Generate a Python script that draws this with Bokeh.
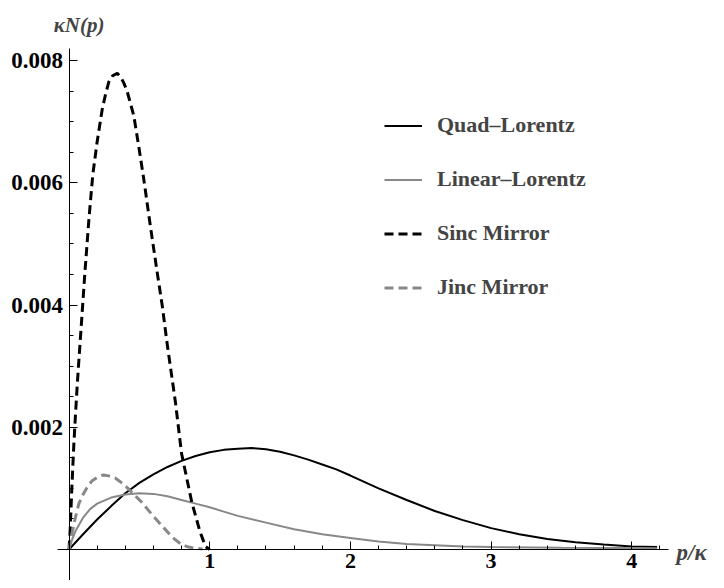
from bokeh.plotting import figure
from bokeh.models import Range1d, FixedTicker, Legend, LegendItem, Label
from bokeh.embed import file_html
from bokeh.resources import INLINE

# ---- data ----
quad_x = [0, 0.1, 0.2, 0.3, 0.4, 0.5, 0.6, 0.7, 0.8, 0.9, 1.0, 1.1, 1.2, 1.3, 1.4, 1.5, 1.6, 1.7, 1.8, 1.9, 2.0,
          2.2, 2.4, 2.6, 2.8, 3.0, 3.2, 3.4, 3.6, 3.8, 4.0, 4.18]
quad_y = [0, 0.00025, 0.00049, 0.00071, 0.00092, 0.00109, 0.00123, 0.00135, 0.00145, 0.00153, 0.00159, 0.00163,
          0.00165, 0.00166, 0.00164, 0.0016, 0.00154, 0.00147, 0.00139, 0.00131, 0.00121,
          0.001, 0.00081, 0.00063, 0.00048, 0.00035, 0.00025, 0.00017, 0.00012, 0.00008, 0.00005, 0.00004]

lin_x = [0, 0.025, 0.05, 0.1, 0.15, 0.2, 0.3, 0.4, 0.5, 0.6, 0.7, 0.8, 0.9, 1.0, 1.1, 1.2, 1.4, 1.6, 1.8, 2.0,
         2.2, 2.4, 2.6, 2.8, 3.0, 3.5, 4.18]
lin_y = [0, 0.00018, 0.00032, 0.00052, 0.00066, 0.00075, 0.00085, 0.0009, 0.00092, 0.00091, 0.00087, 0.00081,
         0.00075, 0.00069, 0.00062, 0.00055, 0.00044, 0.00033, 0.00025, 0.00019,
         0.00013, 0.00009, 0.00007, 0.00005, 0.00004, 0.00003, 0.00002]

sinc_x = [0, 0.008, 0.02, 0.034, 0.046, 0.058, 0.07, 0.094, 0.112, 0.141, 0.169, 0.2, 0.236, 0.26, 0.283, 0.31,
          0.343, 0.37, 0.39, 0.414, 0.461, 0.496, 0.532, 0.579, 0.627, 0.662, 0.698, 0.757, 0.8, 0.873, 0.93,
          0.97, 1.0]
sinc_y = [0, 0.0003, 0.001, 0.0017, 0.0022, 0.00267, 0.00309, 0.00389, 0.0045, 0.00539, 0.00613, 0.00667,
          0.0072, 0.00745, 0.00765, 0.00775, 0.00779, 0.00772, 0.00763, 0.00749, 0.00709, 0.00659, 0.00605,
          0.00528, 0.00453, 0.004, 0.00336, 0.0024, 0.00157, 0.00077, 0.0003, 0.00005, 0]

jinc_x = [0, 0.02, 0.044, 0.07, 0.1, 0.13, 0.162, 0.2, 0.245, 0.29, 0.328, 0.375, 0.423, 0.47, 0.518, 0.565,
          0.613, 0.66, 0.707, 0.75, 0.8, 0.85, 0.9, 0.95]
jinc_y = [0, 0.00025, 0.00051, 0.00075, 0.0009, 0.00102, 0.00112, 0.00118, 0.00122, 0.0012, 0.00117, 0.00109,
          0.00099, 0.00088, 0.00077, 0.00064, 0.00051, 0.00039, 0.00027, 0.00017, 0.00008, 0.00004, 0.00002,
          0.00001]

series_names = ["Quad–Lorentz", "Linear–Lorentz", "Sinc Mirror", "Jinc Mirror"]
x_major = [1, 2, 3, 4]
x_minor = [0.2, 0.4, 0.6, 0.8, 1.2, 1.4, 1.6, 1.8, 2.2, 2.4, 2.6, 2.8, 3.2, 3.4, 3.6, 3.8, 4.2]
y_major = [0.002, 0.004, 0.006, 0.008]
y_minor = [0.0005, 0.001, 0.0015, 0.0025, 0.003, 0.0035, 0.0045, 0.005, 0.0055, 0.0065, 0.007, 0.0075]
y_tick_labels = {0.002: "0.002", 0.004: "0.004", 0.006: "0.006", 0.008: "0.008"}
y_label = "κN(p)"
x_label = "p/κ"

FONT = "Liberation Serif"

# frame covers the whole canvas; axes sit at the data origin
W, H = 716, 580
X0_PX, XSCALE = 68.5, 140.7          # pixel of x=0, pixels per unit
Y0_PX = 549.0                        # pixel of y=0
YSCALE = (Y0_PX - 60.0) / 0.008      # 0.008 sits at pixel 60


def px_x(px):
    return (px - X0_PX) / XSCALE


def px_y(py):
    return (Y0_PX - py) / YSCALE


p = figure(width=W, height=H, output_backend="svg", toolbar_location=None,
           x_range=Range1d(px_x(0), px_x(W)), y_range=Range1d(px_y(H), px_y(0)),
           min_border_left=0, min_border_right=0, min_border_top=0, min_border_bottom=0)
p.outline_line_color = None
p.grid.visible = False

xa, ya = p.xaxis[0], p.yaxis[0]
for ax in (xa, ya):
    ax.fixed_location = 0
    ax.axis_line_color = "black"
    ax.axis_line_width = 1
    ax.major_tick_in = 8
    ax.major_tick_out = 0
    ax.minor_tick_in = 4
    ax.minor_tick_out = 0
    ax.major_tick_line_color = "black"
    ax.minor_tick_line_color = "black"
    ax.major_label_text_font = FONT
    ax.major_label_text_font_style = "bold"
    ax.major_label_text_color = "black"

ya.major_label_text_font_size = "23px"
xa.major_label_text_font_size = "22px"
xa.bounds = (px_x(57), px_x(668))
ya.bounds = (px_y(H + 5), px_y(48))
xa.ticker = FixedTicker(ticks=x_major, minor_ticks=x_minor)
ya.ticker = FixedTicker(ticks=y_major, minor_ticks=y_minor)
ya.major_label_overrides = y_tick_labels
xa.major_label_standoff = 4
ya.major_label_standoff = 6

r_quad = p.line(quad_x, quad_y, line_color="black", line_width=2)
r_lin = p.line(lin_x, lin_y, line_color="#888888", line_width=2)
r_sinc = p.line(sinc_x, sinc_y, line_color="black", line_width=3, line_dash="9 5")
r_jinc = p.line(jinc_x, jinc_y, line_color="#888888", line_width=3, line_dash="9 5")

legend = Legend(items=[LegendItem(label=series_names[0], renderers=[r_quad]),
                       LegendItem(label=series_names[1], renderers=[r_lin]),
                       LegendItem(label=series_names[2], renderers=[r_sinc]),
                       LegendItem(label=series_names[3], renderers=[r_jinc])],
                location=(384, 280))
legend.border_line_color = None
legend.background_fill_alpha = 0
legend.padding = 0
legend.margin = 0
legend.spacing = 28
legend.glyph_width = 38
legend.glyph_height = 25
legend.label_height = 25
legend.label_standoff = 15
legend.label_text_font = FONT
legend.label_text_font_style = "bold"
legend.label_text_font_size = "22px"
legend.label_text_baseline = "middle"
p.add_layout(legend)

p.add_layout(Label(x=px_x(104), y=px_y(24), text=y_label,
                   text_font=FONT, text_font_style="bold italic", text_font_size="21px",
                   text_baseline="middle", text_align="right"))
p.add_layout(Label(x=px_x(676), y=px_y(552), text=x_label,
                   text_font=FONT, text_font_style="bold italic", text_font_size="23px",
                   text_baseline="middle", text_align="left"))

open("out.html", "w").write(file_html(p, INLINE))
